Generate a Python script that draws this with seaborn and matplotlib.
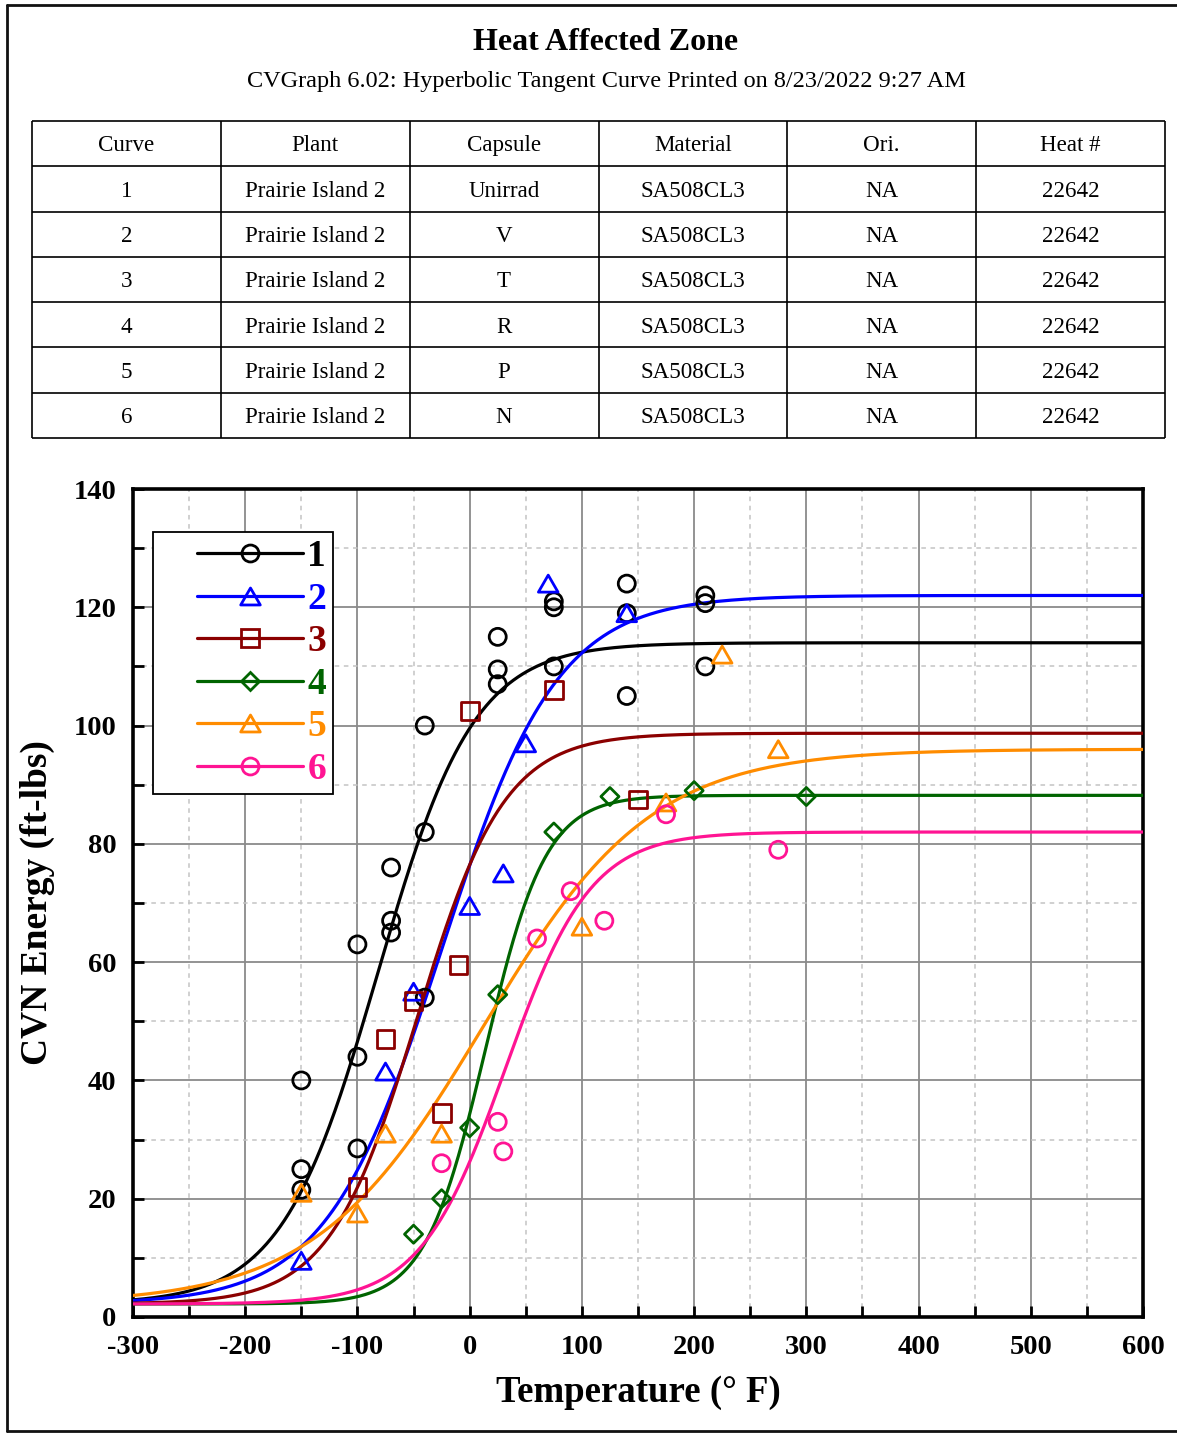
import numpy as np
import pandas as pd
import matplotlib
matplotlib.use("Agg")
import matplotlib.pyplot as plt
from matplotlib.lines import Line2D
from matplotlib.path import Path
from matplotlib.legend_handler import HandlerLine2D
import seaborn as sns

# ---------------- Specimen table ----------------
table_header = ["Curve", "Plant", "Capsule", "Material", "Ori.", "Heat #"]
curve_ids = ["1", "2", "3", "4", "5", "6"]
plants = ["Prairie Island 2"] * 6
capsules = ["Unirrad", "V", "T", "R", "P", "N"]
materials = ["SA508CL3"] * 6
orientations = ["NA"] * 6
heat_numbers = ["22642"] * 6

# ---------------- Charpy test results (temperature °F, CVN ft-lbs) ----------------
temp_1 = [-150, -150, -150, -100, -100, -100, -70, -70, -70, -40, -40, -40,
          25, 25, 25, 75, 75, 75, 140, 140, 140, 210, 210, 210]
cvn_1 = [40, 25, 21.5, 63, 44, 28.5, 76, 67, 65, 100, 82, 54,
         115, 109.5, 107, 121, 120, 110, 124, 119, 105, 122, 120.7, 110]

temp_2 = [-150, -75, -50, 0, 30, 50, 70, 140]
cvn_2 = [9.5, 41.5, 55, 69.5, 75, 97, 124, 119]

temp_3 = [-100, -75, -50, -25, -10, 0, 75, 150]
cvn_3 = [22, 47, 53.5, 34.5, 59.5, 102.5, 106, 87.5]

temp_4 = [-50, -25, 0, 25, 75, 125, 200, 300]
cvn_4 = [14, 20, 32, 54.5, 82, 88, 89, 88]

temp_5 = [-150, -100, -75, -25, 100, 175, 225, 275]
cvn_5 = [21, 17.5, 31, 31, 66, 87, 112, 96]

temp_6 = [-25, 25, 30, 60, 90, 120, 175, 275]
cvn_6 = [26, 33, 28, 64, 72, 67, 85, 79]

# ---------------- Hyperbolic tangent fit parameters ----------------
lower_shelf = [2.2, 2.2, 2.2, 2.2, 2.2, 2.2]
upper_shelf = [114.0, 122.0, 98.7, 88.2, 96.0, 82.0]
t_mid = [-82.0, -25.0, -47.0, 14.0, 12.0, 32.0]
c_width = [86.0, 103.0, 78.0, 54.0, 150.0, 76.0]

temps = [temp_1, temp_2, temp_3, temp_4, temp_5, temp_6]
cvns = [cvn_1, cvn_2, cvn_3, cvn_4, cvn_5, cvn_6]

colors = ["#000000", "#0000FF", "#8B0000", "#006400", "#FF8C00", "#FF1493"]
# equilateral open triangle
tri = Path([(-1.0, -0.866), (1.0, -0.866), (0.0, 0.866), (-1.0, -0.866)],
           [Path.MOVETO, Path.LINETO, Path.LINETO, Path.CLOSEPOLY])
markers = ["o", tri, "s", "D", tri, "o"]
marker_area = [150, 200, 165, 85, 200, 150]
legend_msize = [12.2, 14.1, 12.8, 9.2, 14.1, 12.2]

# ---------------- Style ----------------
sns.set_theme(style="white")
plt.rcParams["font.family"] = ["Liberation Serif", "DejaVu Serif"]
plt.rcParams["axes.edgecolor"] = "black"
plt.rcParams["axes.unicode_minus"] = False
for key in ["text.color", "axes.labelcolor", "xtick.color", "ytick.color"]:
    plt.rcParams[key] = "black"

W, H = 1177, 1433
fig = plt.figure(figsize=(W / 100, H / 100), dpi=100)
fig.patch.set_facecolor("white")

# Page frame
for xs, ys in [([7, 7], [5, 1431]), ([7, 1180], [5, 5]), ([7, 1180], [1431, 1431])]:
    fig.add_artist(Line2D([x / W for x in xs], [1 - y / H for y in ys],
                          transform=fig.transFigure, color="#111111", lw=2.0))

# Titles
fig.text(606 / W, 1 - 42 / H, "Heat Affected Zone", ha="center", va="center",
         fontsize=23, fontweight="bold")
fig.text(606 / W, 1 - 81 / H,
         "CVGraph 6.02: Hyperbolic Tangent Curve Printed on 8/23/2022 9:27 AM",
         ha="center", va="center", fontsize=17.5)

# ---------------- Table ----------------
tax = fig.add_axes([32 / W, 1 - 438 / H, 1133 / W, 317 / H])
tax.set_xlim(0, 6)
tax.set_ylim(7, 0)
tax.axis("off")
tax.hlines(np.arange(8), 0, 6, color="black", lw=1.2, clip_on=False)
tax.vlines(np.arange(7), 0, 7, color="black", lw=1.2, clip_on=False)
rows = [table_header] + [list(r) for r in zip(curve_ids, plants, capsules,
                                                 materials, orientations, heat_numbers)]
for i, row in enumerate(rows):
    for j, val in enumerate(row):
        tax.text(j + 0.5, i + 0.55, val, ha="center", va="center", fontsize=16.6)

# ---------------- Transition curves ----------------
ax = fig.add_axes([133 / W, 1 - 1317 / H, 1010 / W, 828 / H])
ax.set_xlim(-300, 600)
ax.set_ylim(0, 140)
ax.set_xticks(np.arange(-300, 601, 100))
ax.set_xticks(np.arange(-250, 600, 100), minor=True)
ax.set_yticks(np.arange(0, 141, 20))
ax.set_yticks(np.arange(10, 140, 20), minor=True)
ax.grid(which="major", color="#8a8a8a", lw=1.3, ls="-")
ax.grid(which="minor", color="#c4c4c4", lw=1.1, ls=(0, (3, 3)))
ax.set_axisbelow(True)

t_grid = np.linspace(-300, 600, 901)
for i in range(6):
    half = (upper_shelf[i] - lower_shelf[i]) / 2.0
    fit = lower_shelf[i] + half * (1.0 + np.tanh((t_grid - t_mid[i]) / c_width[i]))
    sns.lineplot(x=t_grid, y=fit, color=colors[i], lw=2.3, ax=ax,
                 legend=False, zorder=3)

for i in range(6):
    sns.scatterplot(x=temps[i], y=cvns[i], marker=markers[i], s=marker_area[i],
                    color=colors[i], facecolor="none", edgecolor=colors[i],
                    linewidth=2.0, ax=ax, legend=False, zorder=4)

for side in ["left", "right", "top", "bottom"]:
    ax.spines[side].set_linewidth(2.6)
    ax.spines[side].set_color("black")
ax.tick_params(which="both", direction="in", length=8, width=2, color="black",
               bottom=True, left=True, top=False, right=False)
ax.tick_params(axis="y", which="major", pad=12)
ax.tick_params(axis="x", which="major", pad=13)
for lab in ax.get_xticklabels() + ax.get_yticklabels():
    lab.set_fontsize(20.5)
    lab.set_fontweight("bold")

ax.set_xlabel("Temperature (° F)", fontsize=26.5, fontweight="bold", labelpad=11)
ax.set_ylabel("CVN Energy (ft-lbs)", fontsize=27, fontweight="bold", labelpad=13)


# Legend whose line segment sits at the right end of the handle box
class RightSegment(HandlerLine2D):
    def __init__(self, seg, **kw):
        super().__init__(**kw)
        self.seg = seg

    def get_xdata(self, legend, xdescent, ydescent, width, height, fontsize):
        x1 = -xdescent + width
        x0 = x1 - self.seg * fontsize
        return [x0, x1], [0.5 * (x0 + x1)]


handles = [Line2D([], [], color=colors[i], lw=2.3, marker=markers[i],
                  markersize=legend_msize[i], markerfacecolor="none",
                  markeredgecolor=colors[i], markeredgewidth=2.0)
           for i in range(6)]
leg = ax.legend(handles, curve_ids, loc="upper left",
                bbox_to_anchor=(0.0201, 0.9477), borderaxespad=0,
                numpoints=1, handlelength=3.8, handletextpad=0.12,
                borderpad=0.19, labelspacing=0.2, frameon=True, fancybox=False,
                framealpha=1, edgecolor="black", labelcolor="linecolor",
                prop={"family": "Liberation Serif", "weight": "bold", "size": 27},
                handler_map={h: RightSegment(2.83) for h in handles})
leg.get_frame().set_linewidth(1.3)
leg.set_zorder(6)

fig.savefig("out.png", dpi=100, facecolor="white")
